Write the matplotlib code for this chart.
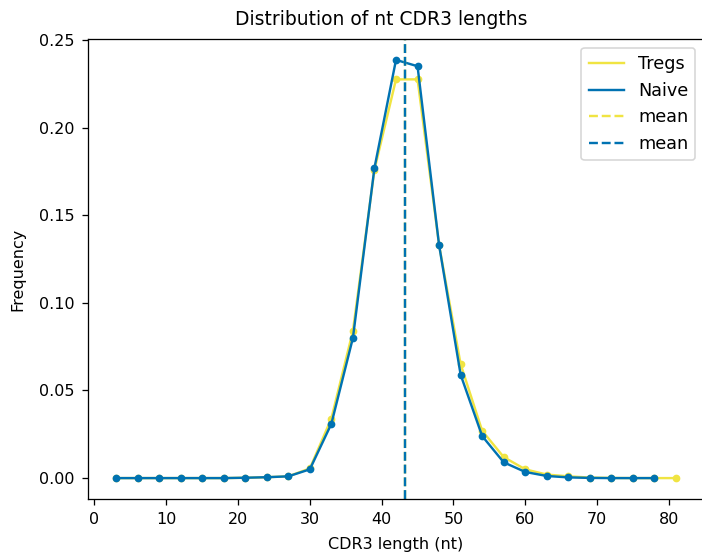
import matplotlib
matplotlib.use("Agg")
import matplotlib.pyplot as plt

# CDR3 length bins (nt)
tregs_len = [3, 6, 9, 12, 15, 18, 21, 24, 27, 30, 33, 36, 39, 42, 45, 48, 51, 54,
             57, 60, 63, 66, 69, 72, 75, 78, 81]
tregs_freq = [0.0, 0.0, 0.0, 0.0, 0.0, 0.0, 0.0002, 0.0005, 0.001, 0.0055, 0.034,
              0.084, 0.176, 0.2275, 0.2275, 0.133, 0.065, 0.027, 0.012, 0.005,
              0.002, 0.001, 0.0003, 0.0001, 0.0, 0.0, 0.0]

naive_len = [3, 6, 9, 12, 15, 18, 21, 24, 27, 30, 33, 36, 39, 42, 45, 48, 51, 54,
             57, 60, 63, 66, 69, 72, 75, 78]
naive_freq = [0.0, 0.0, 0.0, 0.0, 0.0, 0.0, 0.0002, 0.0005, 0.001, 0.005, 0.031,
              0.080, 0.177, 0.2386, 0.235, 0.133, 0.059, 0.024, 0.009, 0.0035,
              0.0012, 0.0004, 0.0001, 0.0, 0.0, 0.0]

tregs_mean = 43.3
naive_mean = 43.2

yellow = '#f0e442'
blue = '#0072b2'

dpi = 115.4
fig = plt.figure(figsize=(702 / dpi, 554 / dpi), dpi=dpi)
ax = fig.add_axes([88 / 702, 55 / 554, 616 / 702, 460 / 554])

# lines (legend entries) and dots drawn separately
ax.plot(tregs_len, tregs_freq, color=yellow, lw=1.5, label='Tregs')
ax.plot(tregs_len, tregs_freq, 'o', color=yellow, markersize=3.8)
ax.plot(naive_len, naive_freq, color=blue, lw=1.5, label='Naive')
ax.plot(naive_len, naive_freq, 'o', color=blue, markersize=3.8)
ax.axvline(tregs_mean, color=yellow, ls='--', lw=1.5, label='mean')
ax.axvline(naive_mean, color=blue, ls='--', lw=1.5, label='mean')

ax.set_title('Distribution of nt CDR3 lengths', fontsize=11.7, pad=8.5, x=0.476)
ax.set_xlabel('CDR3 length (nt)', labelpad=6)
ax.set_ylabel('Frequency', labelpad=8.5)
ax.set_xticks(range(0, 81, 10))
ax.tick_params(pad=4.7)
ax.spines['right'].set_visible(False)
ax.legend(loc='upper right', fontsize=11)

fig.savefig('out.png', dpi=dpi)
